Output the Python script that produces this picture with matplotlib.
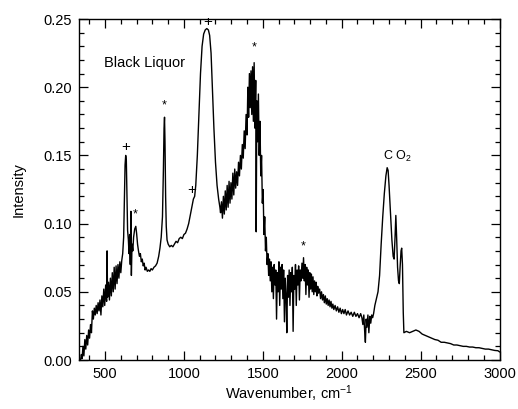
import matplotlib
matplotlib.use("Agg")
import matplotlib.pyplot as plt
from matplotlib.ticker import MultipleLocator

plt.rcParams['font.family'] = ['Liberation Sans', 'DejaVu Sans']
plt.rcParams['mathtext.fontset'] = 'custom'
plt.rcParams['mathtext.rm'] = 'Liberation Sans'
plt.rcParams['mathtext.it'] = 'Liberation Sans:italic'

# ---- spectrum data (wavenumber cm-1, intensity) ----
wn_low = [345, 350, 355, 360, 366, 372, 378, 384, 390, 396, 402, 408, 414, 420, 426, 432,
          438, 444, 450, 456, 462, 468, 474, 480, 486, 492, 498, 504, 510, 513, 516, 522,
          528, 534, 540, 546, 552, 558, 564, 570, 576, 582, 588, 594, 600, 606, 612, 618,
          623, 627, 631, 635, 639, 643, 648, 652, 656, 660, 664, 667, 671, 676, 681, 688,
          695, 700, 706, 712, 718, 724, 730, 736, 742, 748, 754, 760, 768, 776, 784, 792,
          800, 810, 820, 830, 840, 848, 856, 864, 870, 874, 877, 880, 884, 888, 893, 900,
          910, 920, 930, 940, 950, 960, 970, 980, 990, 1000, 1010, 1020, 1030, 1040, 1050,
          1060, 1068]
int_low = [0.000, 0.004, 0.001, 0.010, 0.003, 0.015, 0.008, 0.018, 0.011, 0.022, 0.016, 0.026,
           0.020, 0.036, 0.030, 0.038, 0.033, 0.040, 0.034, 0.042, 0.036, 0.044, 0.033, 0.047,
           0.039, 0.052, 0.040, 0.055, 0.043, 0.080, 0.046, 0.057, 0.044, 0.060, 0.047, 0.064,
           0.050, 0.068, 0.052, 0.069, 0.056, 0.070, 0.060, 0.072, 0.064, 0.073, 0.078, 0.090,
           0.120, 0.143, 0.150, 0.146, 0.120, 0.095, 0.088, 0.078, 0.092, 0.070, 0.109, 0.062,
           0.085, 0.080, 0.090, 0.096, 0.098, 0.093, 0.085, 0.080, 0.076, 0.078, 0.072, 0.074,
           0.069, 0.071, 0.066, 0.068, 0.065, 0.066, 0.065, 0.067, 0.066, 0.068, 0.069, 0.071,
           0.076, 0.082, 0.090, 0.105, 0.140, 0.170, 0.178, 0.160, 0.120, 0.098, 0.088, 0.085,
           0.083, 0.084, 0.083, 0.085, 0.087, 0.086, 0.089, 0.090, 0.089, 0.092, 0.093, 0.096,
           0.100, 0.106, 0.112, 0.118, 0.120]

wn_mid = [1075, 1085, 1095, 1105, 1115, 1125, 1135, 1145, 1155, 1163, 1172, 1180, 1190, 1200,
          1210, 1220, 1228, 1232, 1238, 1244, 1250, 1256, 1262, 1268, 1274, 1280, 1286, 1292,
          1298, 1304, 1310, 1316, 1322, 1328, 1334, 1340, 1346, 1352, 1358, 1364, 1370, 1376,
          1382, 1388, 1394, 1400, 1405, 1410, 1415, 1420, 1425, 1430, 1435, 1440, 1445, 1450,
          1455, 1458, 1462, 1467, 1472, 1477, 1482, 1487, 1492, 1497, 1502, 1507, 1512, 1517,
          1522, 1527, 1532, 1537, 1542, 1547]
int_mid = [0.128, 0.150, 0.180, 0.210, 0.230, 0.239, 0.242, 0.243, 0.242, 0.238, 0.225, 0.200,
           0.170, 0.145, 0.128, 0.118, 0.112, 0.108, 0.116, 0.104, 0.120, 0.107, 0.124, 0.110,
           0.128, 0.112, 0.131, 0.115, 0.130, 0.118, 0.137, 0.121, 0.140, 0.126, 0.138, 0.128,
           0.145, 0.135, 0.150, 0.140, 0.158, 0.148, 0.168, 0.155, 0.180, 0.165, 0.200, 0.178,
           0.210, 0.185, 0.212, 0.180, 0.215, 0.175, 0.218, 0.170, 0.205, 0.094, 0.190, 0.160,
           0.195, 0.150, 0.175, 0.135, 0.150, 0.115, 0.125, 0.092, 0.105, 0.080, 0.090, 0.070,
           0.078, 0.062, 0.074, 0.058]

wn_band = [1552, 1557, 1562, 1567, 1572, 1577, 1582, 1587, 1592, 1597, 1602, 1607, 1612, 1617,
           1622, 1627, 1632, 1637, 1642, 1647, 1652, 1657, 1662, 1667, 1672, 1677, 1682, 1687,
           1692, 1697, 1702, 1707, 1712, 1717, 1722, 1727, 1732, 1737, 1742, 1748, 1753, 1758,
           1763, 1768, 1773, 1778, 1783, 1788, 1793, 1798, 1803, 1808, 1813, 1818, 1823, 1828,
           1833, 1838, 1843, 1848, 1853, 1860, 1866, 1872, 1878, 1884, 1890, 1896, 1902, 1908,
           1914, 1920, 1926, 1932, 1938, 1944, 1950, 1958, 1966, 1974, 1982, 1990, 1998, 2006,
           2014, 2022, 2030, 2040, 2050, 2060, 2070, 2080, 2090, 2100, 2110, 2120, 2128, 2134,
           2140, 2146, 2150, 2155, 2160, 2166, 2172, 2178, 2184, 2190, 2196]
int_band = [0.072, 0.050, 0.068, 0.045, 0.070, 0.055, 0.066, 0.030, 0.064, 0.050, 0.072, 0.040,
            0.068, 0.052, 0.070, 0.045, 0.066, 0.028, 0.060, 0.048, 0.020, 0.062, 0.046, 0.066,
            0.040, 0.064, 0.050, 0.068, 0.021, 0.062, 0.052, 0.070, 0.040, 0.066, 0.055, 0.069,
            0.044, 0.066, 0.058, 0.071, 0.060, 0.075, 0.058, 0.070, 0.048, 0.068, 0.055, 0.066,
            0.046, 0.064, 0.052, 0.063, 0.050, 0.061, 0.048, 0.058, 0.050, 0.057, 0.047, 0.054,
            0.049, 0.052, 0.045, 0.050, 0.044, 0.048, 0.042, 0.047, 0.041, 0.045, 0.040, 0.044,
            0.039, 0.043, 0.038, 0.041, 0.037, 0.040, 0.036, 0.039, 0.035, 0.038, 0.034, 0.037,
            0.034, 0.037, 0.033, 0.036, 0.033, 0.035, 0.032, 0.035, 0.032, 0.034, 0.031, 0.034,
            0.031, 0.026, 0.033, 0.020, 0.013, 0.030, 0.024, 0.033, 0.020, 0.032, 0.027, 0.033,
            0.031]

wn_co2 = [2202, 2210, 2220, 2230, 2240, 2250, 2260, 2270, 2280, 2288, 2294, 2300, 2310, 2318,
          2326, 2332, 2338, 2343, 2348, 2354, 2360, 2365, 2370, 2376, 2380, 2385, 2390, 2394,
          2410, 2430, 2450, 2470, 2490, 2510, 2530, 2550, 2570, 2590, 2610, 2630, 2650, 2670,
          2690, 2710, 2730, 2750, 2770, 2790, 2810, 2830, 2850, 2870, 2890, 2910, 2930, 2950,
          2970, 2990, 3000]
int_co2 = [0.034, 0.040, 0.045, 0.050, 0.062, 0.085, 0.105, 0.122, 0.135, 0.141, 0.139, 0.128,
           0.105, 0.088, 0.076, 0.074, 0.090, 0.106, 0.090, 0.068, 0.058, 0.056, 0.068, 0.080,
           0.082, 0.070, 0.035, 0.020, 0.021, 0.020, 0.021, 0.022, 0.021, 0.019, 0.018, 0.017,
           0.016, 0.015, 0.0145, 0.013, 0.013, 0.0125, 0.012, 0.011, 0.011, 0.0105, 0.010,
           0.010, 0.0095, 0.0095, 0.009, 0.009, 0.0085, 0.008, 0.008, 0.0075, 0.007, 0.0068,
           0.006]

wavenumber = wn_low + wn_mid + wn_band + wn_co2
intensity = int_low + int_mid + int_band + int_co2

# annotation marks
plus_x = [633, 1052, 1149]
plus_y = [0.156, 0.125, 0.2475]
star_x = [690, 874, 1445, 1756]
star_y = [0.107, 0.187, 0.229, 0.083]

fig = plt.figure(figsize=(5.18, 4.09), dpi=100)
ax = fig.add_axes([0.1525, 0.1198, 0.8118, 0.8337])
ax.plot(wavenumber, intensity, color='black', lw=1.0)

for x, y in zip(plus_x, plus_y):
    ax.text(x, y, '+', ha='center', va='center', fontsize=11, clip_on=False, zorder=5)
for x, y in zip(star_x, star_y):
    ax.text(x, y, '*', ha='center', va='center', fontsize=9, clip_on=False)
ax.text(2352, 0.149, 'C O$_2$', ha='center', va='center', fontsize=9)
ax.text(494, 0.218, 'Black Liquor', ha='left', va='center', fontsize=10.5)

ax.set_xlim(335, 3000)
ax.set_ylim(0, 0.25)
ax.xaxis.set_major_locator(MultipleLocator(500))
ax.xaxis.set_minor_locator(MultipleLocator(100))
ax.yaxis.set_major_locator(MultipleLocator(0.05))
ax.yaxis.set_minor_locator(MultipleLocator(0.01))
ax.yaxis.set_major_formatter(matplotlib.ticker.FormatStrFormatter('%.2f'))
ax.tick_params(which='both', direction='in', top=True, right=True, labelsize=10.5,
               width=0.9, color='black')
ax.tick_params(which='major', length=6.5, pad=5)
ax.tick_params(which='minor', length=3.5)
for s in ax.spines.values():
    s.set_linewidth(1.0)

ax.set_xlabel('Wavenumber, cm$^{-1}$', fontsize=10.5, labelpad=2)
ax.set_ylabel('Intensity', fontsize=10.5, labelpad=13)

fig.savefig('out.png', dpi=100)
